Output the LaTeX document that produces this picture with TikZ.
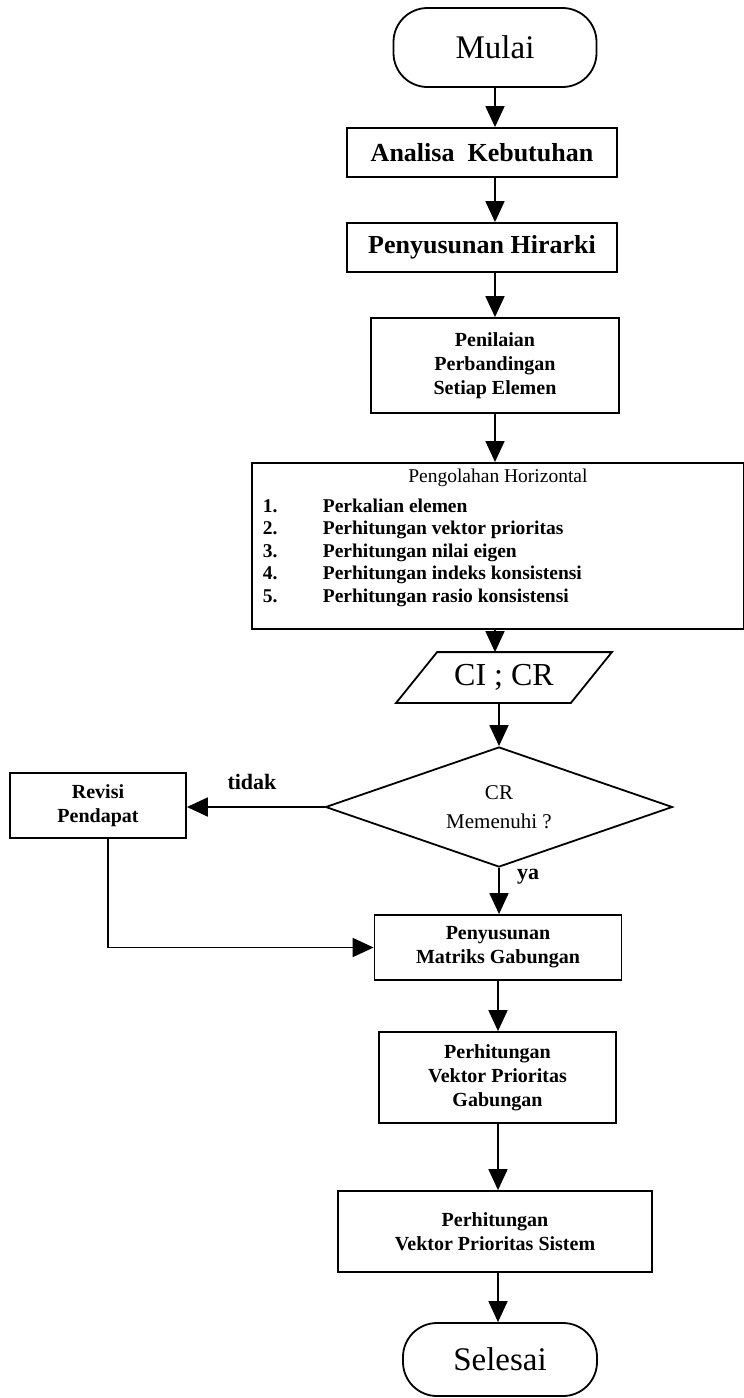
\documentclass[tikz,border=0pt]{standalone}
\usepackage{fontspec}
\setmainfont{Liberation Serif}
\usetikzlibrary{arrows.meta,shapes.geometric,calc}
\newcommand{\termfont}{\fontsize{33}{38}\selectfont}
\newcommand{\headfont}{\bfseries\fontsize{26}{30}\selectfont}
\newcommand{\procfont}{\bfseries\fontsize{20}{24}\selectfont}
\newcommand{\listfont}{\fontsize{19.5}{22.5}\selectfont}
\newcommand{\iofont}{\fontsize{32}{36}\selectfont}
\newcommand{\decfont}{\fontsize{21}{29}\selectfont}
\newcommand{\labfont}{\bfseries\fontsize{22}{26}\selectfont}

\begin{document}
\begin{tikzpicture}[x=1pt,y=-1pt,line width=1.8pt,
  termbox/.style={draw,rounded corners=34pt,inner sep=0pt,font=\termfont},
  procbox/.style={draw,inner sep=0pt,align=center,font=\procfont},
  iobox/.style={inner sep=0pt,font=\iofont},
  decbox/.style={draw,diamond,aspect=3,inner sep=0pt,align=center,font=\decfont},
  flowline/.style={-{Triangle[length=21pt,width=19pt]}}]
\useasboundingbox (0,0) rectangle (744,1398);
% main column
\node[termbox,minimum width=203pt,minimum height=79pt] (mulai) at (495,47.5) {Mulai};
\node[procbox,font=\headfont,minimum width=270pt,minimum height=49pt] (analisa) at (482,152.5) {Analisa\ \ Kebutuhan};
\node[procbox,font=\headfont,minimum width=270pt,minimum height=49pt] (hirarki) at (482,247.5) {Penyusunan Hirarki};
\node[procbox,minimum width=248pt,minimum height=95pt] (penilaian) at (495,365.5) {Penilaian\\Perbandingan\\Setiap Elemen};
\node[draw,anchor=north west,inner xsep=6pt,inner ysep=4pt,minimum width=492pt,minimum height=165pt,font=\listfont] (olah) at (251,462)
  {\begin{tabular}{@{}p{5pt}@{}p{60pt}@{}p{415pt}@{}}
   \multicolumn{3}{@{}c@{}}{Pengolahan Horizontal}\\[7pt]
   & \textbf{1.} & \textbf{Perkalian elemen}\\
   & \textbf{2.} & \textbf{Perhitungan vektor prioritas}\\
   & \textbf{3.} & \textbf{Perhitungan nilai eigen}\\
   & \textbf{4.} & \textbf{Perhitungan indeks konsistensi}\\
   & \textbf{5.} & \textbf{Perhitungan rasio konsistensi}\\[16pt]
   \end{tabular}};
\node[iobox,minimum width=173pt,minimum height=49pt] (cicr) at (504,677.5) {CI ; CR};
\draw ([xshift=-20.5pt]cicr.south west) -- ([xshift=20.5pt]cicr.north west) -- ([xshift=20.5pt]cicr.north east) -- ([xshift=-20.5pt]cicr.south east) -- cycle;
\node[decbox,minimum width=347pt,minimum height=120pt] (cek) at (499,807) {CR\\Memenuhi ?};
\node[procbox,minimum width=176pt,minimum height=65pt] (revisi) at (98,805.5) {Revisi\\Pendapat};
\node[procbox,minimum width=247pt,minimum height=65pt] (matriks) at (498,947.5) {Penyusunan\\Matriks Gabungan};
\node[procbox,minimum width=237pt,minimum height=91pt] (vgab) at (497.5,1077.5) {Perhitungan\\Vektor Prioritas\\Gabungan};
\node[procbox,minimum width=314pt,minimum height=81pt] (vsis) at (495,1231.5) {Perhitungan\\Vektor Prioritas Sistem};
\node[termbox,minimum width=194pt,minimum height=73pt] (selesai) at (500,1359.5) {Selesai};
% labels
\node[font=\labfont] (tidak) at (252,782) {tidak};
\node[font=\labfont] (ya) at (528,877) {ya};
% arrows
\draw[flowline] (mulai.south) -- (mulai.south |- analisa.north);
\draw[flowline] (analisa.south -| mulai.south) -- (mulai.south |- hirarki.north);
\draw[flowline] (hirarki.south -| mulai.south) -- (mulai.south |- penilaian.north);
\draw[flowline] (penilaian.south) -- (penilaian.south |- olah.north);
\draw[flowline] (olah.south -| penilaian.south) -- (penilaian.south |- cicr.north);
\draw[flowline] (cek.north |- cicr.south) -- (cek.north);
\draw[flowline] (cek.west) -- (cek.west -| revisi.east);
\draw[flowline] (cek.south) -- (cek.south |- matriks.north);
\draw[flowline] ($(revisi.south)+(10,0)$) |- (matriks.west);
\draw[flowline] (matriks.south) -- (matriks.south |- vgab.north);
\draw[flowline] (vgab.south -| matriks.south) -- (matriks.south |- vsis.north);
\draw[flowline] (vsis.south -| matriks.south) -- (matriks.south |- selesai.north);
\end{tikzpicture}
\end{document}
